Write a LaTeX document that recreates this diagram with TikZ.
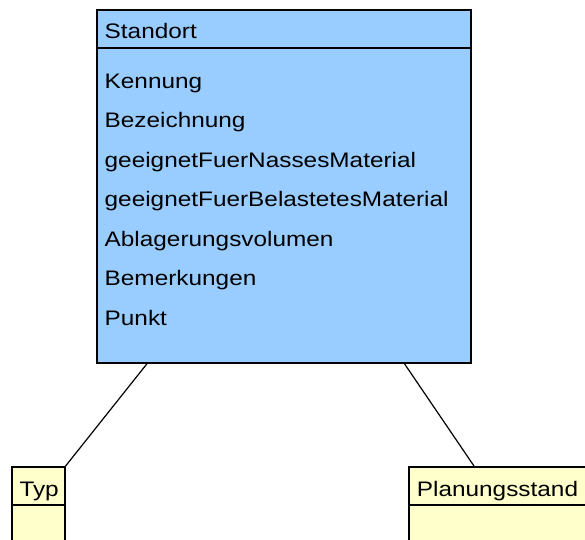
\documentclass[tikz,border=0pt]{standalone}
\usepackage{fontspec}
\setmainfont{Liberation Sans}[FakeStretch=1.16]
\usetikzlibrary{calc}
\definecolor{classblue}{RGB}{153,204,255}
\definecolor{classyellow}{RGB}{255,255,204}

\begin{document}
\begin{tikzpicture}[x=1pt, y=-1pt,
    every node/.style={font=\fontsize{21}{25}\selectfont},
    umlclass/.style={rectangle, draw=black, line width=1.6pt, anchor=north west, inner sep=0pt},
    attr/.style={anchor=base west, inner sep=0pt},
    assoc/.style={draw=black, line width=1.2pt}
]
\useasboundingbox (0,0) rectangle (585,539);
\clip (0,0) rectangle (585,539);

% class boxes
\node[umlclass, fill=classblue, minimum width=374pt, minimum height=353pt] (standort) at (96,9) {};
\node[umlclass, fill=classyellow, minimum width=53pt, minimum height=120pt] (typ) at (11,466) {};
\node[umlclass, fill=classyellow, minimum width=200pt, minimum height=120pt] (plan) at (408,466) {};

\foreach \c in {standort, typ, plan}
    \draw[line width=1.6pt] ([yshift=-39pt]\c.north west) -- ([yshift=-39pt]\c.north east);

% names and attributes
\node[attr] (standortname) at ($(standort.north west)+(8.5,29.3)$) {Standort};
\foreach \a [count=\i] in {Kennung, Bezeichnung, geeignetFuerNassesMaterial, geeignetFuerBelastetesMaterial, Ablagerungsvolumen, Bemerkungen, Punkt}
    \node[attr] (attr\i) at ($(standort.north west)+(8.5,{79.3+39.5*(\i-1)})$) {\a};
\node[attr] (typname) at ($(typ.north west)+(8.3,30.7)$) {Typ};
\node[attr] (planname) at ($(plan.north west)+(8.7,30.7)$) {Planungsstand};

% associations
\draw[assoc] ($(standort.south west)!0.136!(standort.south east)$) -- (typ.north east);
\draw[assoc] ($(standort.south west)!0.821!(standort.south east)$) -- ($(plan.north west)+(66,0)$);

\end{tikzpicture}
\end{document}
